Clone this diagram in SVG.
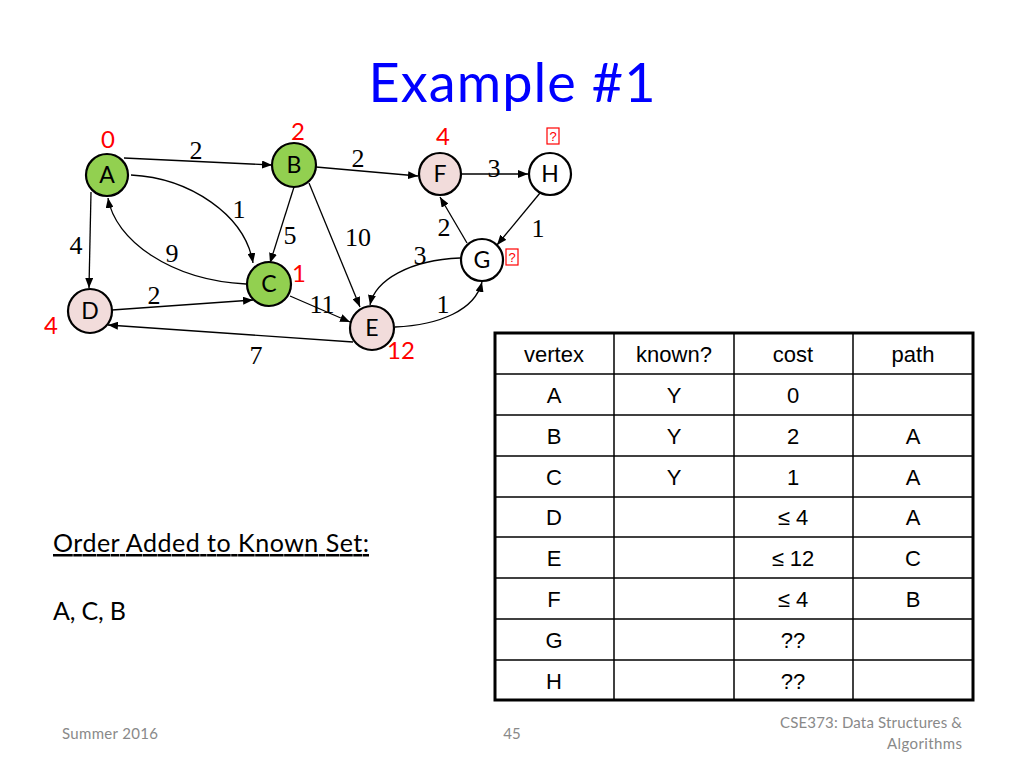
<svg xmlns="http://www.w3.org/2000/svg" width="1024" height="768" viewBox="0 0 1024 768">
<style>
.node circle{stroke:#000;stroke-width:2.2}
.g{fill:#92D050}.p{fill:#F2DCDB}.w{fill:#fff}
.nl{font-family:Lato,"Open Sans",sans-serif;font-size:23px;text-anchor:middle;fill:#000}
.rd{font-family:Lato,"Open Sans",sans-serif;font-size:24px;fill:#FF0000;text-anchor:middle}
.wt{font-family:"Liberation Serif",serif;font-size:26px;fill:#000;text-anchor:middle}
.edge{fill:none;stroke:#000;stroke-width:1.3;marker-end:url(#ah)}
.tb{font-family:"Liberation Sans",Arial,sans-serif;font-size:22px;text-anchor:middle;fill:#000}
.ft{font-family:Lato,"Open Sans",sans-serif;font-size:15px;fill:#898989}
.box{fill:none;stroke:#FF0000;stroke-width:1.2}
.rq{font-family:"Liberation Sans",sans-serif;font-size:13px;fill:#FF0000;text-anchor:middle}
</style>
<defs>
<marker id="ah" markerWidth="10" markerHeight="8" refX="10" refY="4" orient="auto" markerUnits="userSpaceOnUse">
<path d="M0,0 L10,4 L0,8 Z" fill="#000"/>
</marker>
</defs>
<rect width="1024" height="768" fill="#fff"/>
<text x="512" y="102" font-family="Lato,'Open Sans',sans-serif" font-size="54" fill="#0000FF" text-anchor="middle" textLength="287">Example #1</text>

<g id="connectors">
<line class="edge" x1="124" y1="158" x2="272" y2="165"/>
<line class="edge" x1="316" y1="167" x2="418" y2="176"/>
<line class="edge" x1="462" y1="174" x2="528" y2="174"/>
<line class="edge" x1="540" y1="193" x2="497" y2="245"/>
<line class="edge" x1="467" y1="243" x2="440" y2="197"/>
<path class="edge" d="M131,175 C190,178 245,215 253,263"/>
<path class="edge" d="M246,284 C170,280 115,240 108,198"/>
<line class="edge" x1="91" y1="192" x2="89" y2="288"/>
<line class="edge" x1="112" y1="310" x2="253" y2="300"/>
<line class="edge" x1="353" y1="342" x2="108" y2="325"/>
<line class="edge" x1="290" y1="296" x2="350" y2="322"/>
<line class="edge" x1="309" y1="183" x2="360" y2="307"/>
<line class="edge" x1="294" y1="187" x2="270" y2="263"/>
<path class="edge" d="M460,258 C410,260 375,280 370,305"/>
<path class="edge" d="M395,327 C440,325 475,310 482,282"/>
</g>

<g id="weights">
<text class="wt" x="196" y="159">2</text>
<text class="wt" x="358" y="167">2</text>
<text class="wt" x="494" y="177">3</text>
<text class="wt" x="239" y="218">1</text>
<text class="wt" x="290" y="244">5</text>
<text class="wt" x="358" y="246">10</text>
<text class="wt" x="444" y="236">2</text>
<text class="wt" x="538" y="237">1</text>
<text class="wt" x="76" y="254">4</text>
<text class="wt" x="172" y="262">9</text>
<text class="wt" x="420" y="264">3</text>
<text class="wt" x="154" y="304">2</text>
<text class="wt" x="322" y="313">11</text>
<text class="wt" x="443" y="313">1</text>
<text class="wt" x="256" y="364">7</text>
</g>

<g id="node-A" class="node"><circle class="g" cx="107" cy="175" r="21"/><text class="nl" x="107" y="183">A</text><text class="rd" x="108" y="148">0</text></g>
<g id="node-B" class="node"><circle class="g" cx="294" cy="165" r="22"/><text class="nl" x="294" y="173">B</text><text class="rd" x="298" y="140">2</text></g>
<g id="node-F" class="node"><circle class="p" cx="440" cy="174" r="21"/><text class="nl" x="440" y="182">F</text><text class="rd" x="443" y="145">4</text></g>
<g id="node-H" class="node"><circle class="w" cx="550" cy="174" r="21"/><text class="nl" x="550" y="182">H</text><rect class="box" x="547" y="128" width="12" height="16"/><text class="rq" x="553" y="141">?</text></g>
<g id="node-G" class="node"><circle class="w" cx="482" cy="260" r="21"/><text class="nl" x="482" y="268">G</text><rect class="box" x="506" y="249" width="12" height="16"/><text class="rq" x="512" y="262">?</text></g>
<g id="node-C" class="node"><circle class="g" cx="269" cy="284" r="22"/><text class="nl" x="269" y="292">C</text><text class="rd" x="299" y="282">1</text></g>
<g id="node-D" class="node"><circle class="p" cx="90" cy="311" r="22"/><text class="nl" x="90" y="319">D</text><text class="rd" x="51" y="334">4</text></g>
<g id="node-E" class="node"><circle class="p" cx="372" cy="328" r="22"/><text class="nl" x="372" y="336">E</text><text class="rd" x="401" y="359">12</text></g>

<g id="table">
<rect x="495" y="333" width="478" height="367" fill="#fff" stroke="#000" stroke-width="3"/>
<g stroke="#000" stroke-width="1.5">
<line x1="614" y1="333" x2="614" y2="700"/>
<line x1="734" y1="333" x2="734" y2="700"/>
<line x1="853" y1="333" x2="853" y2="700"/>
<line x1="495" y1="374" x2="973" y2="374"/>
<line x1="495" y1="415" x2="973" y2="415"/>
<line x1="495" y1="456" x2="973" y2="456"/>
<line x1="495" y1="497" x2="973" y2="497"/>
<line x1="495" y1="537" x2="973" y2="537"/>
<line x1="495" y1="578" x2="973" y2="578"/>
<line x1="495" y1="619" x2="973" y2="619"/>
<line x1="495" y1="660" x2="973" y2="660"/>
</g>
<text class="tb" x="554" y="362">vertex</text><text class="tb" x="674" y="362">known?</text><text class="tb" x="793" y="362">cost</text><text class="tb" x="913" y="362">path</text>
<text class="tb" x="554" y="403">A</text><text class="tb" x="674" y="403">Y</text><text class="tb" x="793" y="403">0</text>
<text class="tb" x="554" y="444">B</text><text class="tb" x="674" y="444">Y</text><text class="tb" x="793" y="444">2</text><text class="tb" x="913" y="444">A</text>
<text class="tb" x="554" y="485">C</text><text class="tb" x="674" y="485">Y</text><text class="tb" x="793" y="485">1</text><text class="tb" x="913" y="485">A</text>
<text class="tb" x="554" y="525">D</text><text class="tb" x="793" y="525">≤ 4</text><text class="tb" x="913" y="525">A</text>
<text class="tb" x="554" y="566">E</text><text class="tb" x="793" y="566">≤ 12</text><text class="tb" x="913" y="566">C</text>
<text class="tb" x="554" y="607">F</text><text class="tb" x="793" y="607">≤ 4</text><text class="tb" x="913" y="607">B</text>
<text class="tb" x="554" y="648">G</text><text class="tb" x="793" y="648">??</text>
<text class="tb" x="554" y="689">H</text><text class="tb" x="793" y="689">??</text>
</g>

<text x="53" y="552" font-family="Lato,'Open Sans',sans-serif" font-size="25" fill="#000" text-decoration="underline" textLength="316">Order Added to Known Set:</text>
<text x="53" y="620" font-family="Lato,'Open Sans',sans-serif" font-size="25" fill="#000" textLength="73">A, C, B</text>

<text class="ft" x="62" y="739" textLength="96">Summer 2016</text>
<text class="ft" x="512" y="739" text-anchor="middle">45</text>
<text class="ft" x="962" y="728" text-anchor="end" textLength="182">CSE373: Data Structures &amp;</text>
<text class="ft" x="962" y="749" text-anchor="end" textLength="75">Algorithms</text>
</svg>
